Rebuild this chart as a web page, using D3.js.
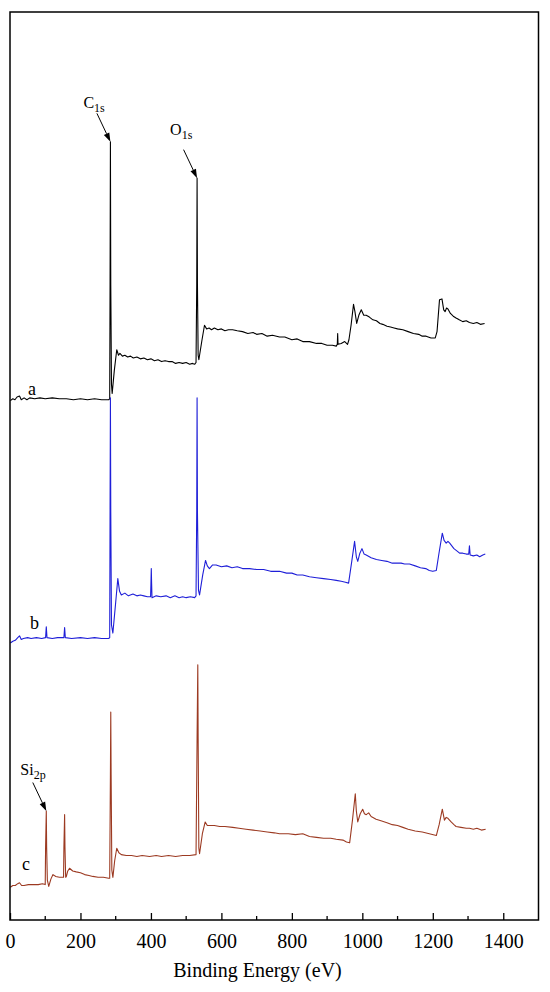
<!DOCTYPE html>
<html>
<head>
<meta charset="utf-8">
<script src="https://cdn.jsdelivr.net/npm/d3@7"></script>
<style>
  body { margin: 0; background: #fff; }
  text { font-family: "Liberation Serif", "Times New Roman", serif; fill: #000; }
</style>
</head>
<body>
<div id="chart"></div>
<script>
// XPS survey spectra, intensity in arbitrary units (curves stacked)
var xTicks = [0, 200, 400, 600, 800, 1000, 1200, 1400];
var xMinorTicks = [100, 300, 500, 700, 900, 1100, 1300];

var seriesA = [
  [1,572],[8,574],[14,573],[20,576],[27,577],[32,573],[40,575],[48,573],[56,575],[70,574],[85,575],[100,574],
  [120,575],[140,574],[160,574],[180,573],[200,574],[220,573],[240,574],[260,573],[280,573],[283,574],
  [284,700],[285,857],[286,700],[288,590],[290,580],[296,605],[303,628],[308,622],[312,624],[319,621],
  [326,622],[334,620],[342,621],[350,619],[360,620],[370,618],[380,619],[390,617],[400,618],[410,616],
  [420,617],[430,615],[440,616],[450,615],[460,615],[470,613],[480,614],[490,613],[500,614],[510,612],
  [518,613],[524,612],[528,614],[530,700],[531,817],[532,700],[534,622],[536,617],[545,639],[552,655],
  [558,651],[565,652],[572,650],[580,652],[590,650],[600,651],[610,649],[620,650],[632,650],[645,649],
  [660,648],[675,646],[690,647],[700,645],[715,646],[730,643],[745,644],[765,642],[780,642],[800,639],
  [815,640],[831,637],[850,637],[870,635],[885,635],[900,633],[915,633],[926,632],[929,634],[930,646],
  [931,634],[940,635],[950,637],[958,634],[962,639],[968,655],[975,678],[979,670],[984,657],[990,666],
  [997,672],[1004,666],[1011,666],[1020,664],[1030,661],[1040,660],[1050,657],[1058,656],[1070,654],
  [1080,653],[1090,652],[1100,651],[1115,650],[1130,648],[1145,646],[1160,645],[1170,643],[1181,643],
  [1195,641],[1207,641],[1212,648],[1219,683],[1226,684],[1231,672],[1235,670],[1239,674],[1243,673],
  [1250,668],[1258,665],[1266,663],[1275,661],[1285,659],[1295,660],[1304,658],[1315,657],[1325,658],
  [1335,656],[1347,657]
];

var seriesB = [
  [1,305],[8,307],[15,308],[22,311],[27,313],[32,309],[38,310],[50,311],[60,310],[75,311],[90,310],
  [101,311],[103,323],[105,311],[120,310],[135,311],[153,311],[155,322],[157,311],[175,310],[200,311],
  [220,310],[240,311],[260,310],[280,310],[283,311],[284,450],[285,575],[286,450],[288,325],[292,316],
  [300,350],[306,376],[311,362],[316,358],[326,360],[336,357],[349,359],[360,357],[370,358],[380,357],
  [390,356],[399,356],[400,370],[401,387],[402,370],[403,355],[415,357],[428,356],[443,357],[455,355],
  [468,357],[480,355],[490,356],[500,355],[512,356],[524,355],[528,357],[530,450],[531,575],[532,450],
  [535,363],[538,358],[547,380],[555,396],[560,390],[566,387],[575,391],[585,391],[600,389],[615,390],
  [630,388],[645,389],[660,387],[680,387],[700,386],[720,386],[740,384],[765,384],[785,382],[800,382],
  [815,380],[831,380],[850,378],[870,377],[890,376],[910,375],[926,374],[940,373],[952,372],[961,371],
  [970,395],[978,417],[983,400],[987,395],[993,404],[999,409],[1005,403],[1011,402],[1025,399],
  [1040,397],[1055,396],[1070,395],[1085,393],[1096,393],[1110,393],[1120,392],[1134,392],[1150,390],
  [1165,388],[1180,387],[1190,385],[1200,384],[1210,385],[1218,405],[1227,426],[1232,418],[1238,415],
  [1243,417],[1248,415],[1260,409],[1270,406],[1276,404],[1285,404],[1295,403],[1302,403],[1304,412],
  [1306,402],[1315,401],[1325,402],[1333,400],[1342,402],[1349,403]
];

var seriesC = [
  [1,36],[8,38],[15,38],[22,40],[27,41],[33,38],[40,38],[52,39],[65,39],[80,39],[92,40],[100,39],
  [101,80],[103,120],[104,80],[106,44],[110,37],[116,45],[122,50],[130,48],[140,47],[152,47],[153,80],
  [155,116],[156,80],[158,47],[160,48],[164,54],[169,57],[178,54],[188,53],[200,52],[212,50],[224,49],
  [235,48],[250,47],[265,47],[280,46],[283,46],[285,160],[286,229],[287,160],[289,55],[292,47],[297,65],
  [303,79],[309,74],[316,72],[330,71],[345,71],[360,70],[375,71],[396,70],[415,71],[430,70],[450,71],
  [470,70],[490,71],[510,71],[528,72],[531,200],[533,281],[534,200],[536,79],[538,73],[546,95],[554,108],
  [560,104],[566,104],[580,104],[595,103],[610,103],[632,102],[650,101],[670,100],[690,99],[710,98],
  [730,97],[750,96],[765,95],[790,95],[810,94],[831,95],[850,92],[870,91],[890,90],[910,90],[926,89],
  [945,88],[955,86],[964,85],[972,110],[980,139],[983,120],[987,108],[994,117],[1001,122],[1006,117],
  [1011,116],[1018,118],[1025,114],[1039,111],[1055,109],[1070,107],[1085,105],[1100,104],[1115,102],
  [1130,100],[1150,98],[1170,97],[1190,95],[1210,93],[1218,105],[1227,122],[1233,110],[1238,113],
  [1243,112],[1252,108],[1260,105],[1266,103],[1280,102],[1295,101],[1304,101],[1315,100],[1325,101],
  [1338,99],[1350,100]
];

var seriesNames = ["a", "b", "c"];
var seriesColors = ["#000000", "#1f1fd8", "#9c3a22"];
// label anchor per series in data units [eV, intensity]
var seriesLabelPos = [[51, 578], [57, 320], [34, 55]];

// peak annotations: name, subscript, arrow tip [eV, intensity]
var peakNames = ["C", "O", "Si"];
var peakSubs = ["1s", "1s", "2p"];
var peakTips = [[285, 857], [531, 817], [103, 120]];

var width = 550, height = 992;
var plot = {left: 10, right: 538.5, top: 12, bottom: 920};

var svg = d3.select("#chart").append("svg")
    .attr("width", width)
    .attr("height", height);

var x = d3.scaleLinear().domain([0, 1500]).range([plot.left, plot.right]);
var y = d3.scaleLinear().domain([0, 1000]).range([plot.bottom, plot.top]);

var line = d3.line()
    .x(function(d) { return x(d[0]); })
    .y(function(d) { return y(d[1]); });

[seriesA, seriesB, seriesC].forEach(function(s, i) {
  svg.append("path")
      .datum(s)
      .attr("d", line)
      .attr("fill", "none")
      .attr("stroke", seriesColors[i])
      .attr("stroke-width", 1.1)
      .attr("stroke-linejoin", "round");

  svg.append("text")
      .attr("x", x(seriesLabelPos[i][0]))
      .attr("y", y(seriesLabelPos[i][1]))
      .attr("font-size", 18)
      .text(seriesNames[i]);
});

// bottom axis, ticks point inward
var xAxis = d3.axisBottom(x).tickValues(xTicks).tickSize(-7).tickPadding(14).tickFormat(d3.format("d"));
var gx = svg.append("g")
    .attr("transform", "translate(0," + plot.bottom + ")")
    .call(xAxis);
gx.select(".domain").remove();
gx.selectAll(".tick line").attr("stroke", "#000").attr("stroke-width", 1.3);
gx.selectAll(".tick text")
    .style("font-family", "'Liberation Serif', serif")
    .style("font-size", "20px")
    .attr("dy", "0.71em");

svg.append("g")
    .selectAll("line")
    .data(xMinorTicks)
    .join("line")
      .attr("x1", function(d) { return x(d); })
      .attr("x2", function(d) { return x(d); })
      .attr("y1", plot.bottom)
      .attr("y2", plot.bottom - 4)
      .attr("stroke", "#000")
      .attr("stroke-width", 1.3);

// frame
svg.append("rect")
    .attr("x", plot.left)
    .attr("y", plot.top)
    .attr("width", plot.right - plot.left)
    .attr("height", plot.bottom - plot.top)
    .attr("fill", "none")
    .attr("stroke", "#000")
    .attr("stroke-width", 1.5);

svg.append("text")
    .attr("x", 257.5)
    .attr("y", 977)
    .attr("text-anchor", "middle")
    .style("font-size", "20px")
    .text("Binding Energy (eV)");

// peak labels with arrows
var labelOffsets = [[-27, -34], [-27, -43], [-26, -36]];
peakNames.forEach(function(name, i) {
  var tx = x(peakTips[i][0]), ty = y(peakTips[i][1]);
  var sx = tx - 13.5, sy = ty - 28.5;
  var ang = Math.atan2(ty - sy, tx - sx);
  var len = 9, half = 3;
  var bx = tx - len * Math.cos(ang), by = ty - len * Math.sin(ang);

  svg.append("line")
      .attr("x1", sx).attr("y1", sy)
      .attr("x2", bx).attr("y2", by)
      .attr("stroke", "#000")
      .attr("stroke-width", 1);

  svg.append("path")
      .attr("d", "M" + tx + "," + ty +
                 "L" + (bx + half * Math.sin(ang)) + "," + (by - half * Math.cos(ang)) +
                 "L" + (bx - half * Math.sin(ang)) + "," + (by + half * Math.cos(ang)) + "Z")
      .attr("fill", "#000");

  var t = svg.append("text")
      .attr("x", tx + labelOffsets[i][0])
      .attr("y", ty + labelOffsets[i][1])
      .attr("font-size", 16);
  t.append("tspan").text(name);
  t.append("tspan").attr("font-size", 12).attr("dy", 4).text(peakSubs[i]);
});
</script>
</body>
</html>
